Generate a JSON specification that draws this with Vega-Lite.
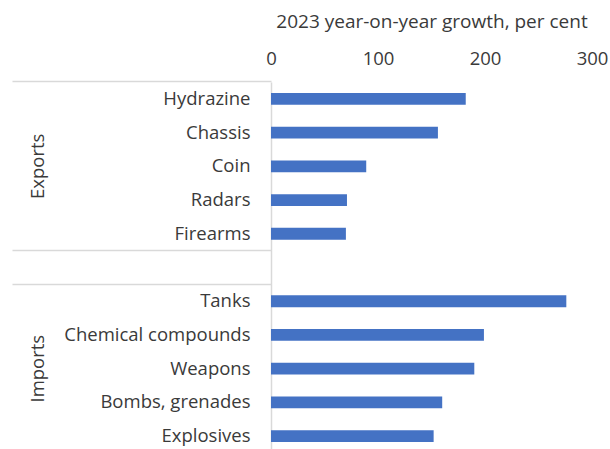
{
  "$schema": "https://vega.github.io/schema/vega-lite/v6.json",
  "width": 321,
  "height": 367,
  "autosize": {"type": "none"},
  "padding": {"left": 271, "top": 82, "right": 18, "bottom": 0},
  "background": "white",
  "view": {"stroke": null},
  "config": {
    "font": "Open Sans",
    "axis": {"labelFont": "Open Sans", "titleFont": "Open Sans", "labelColor": "#3a3a3a", "titleColor": "#3a3a3a", "labelFontSize": 18.5, "titleFontSize": 19, "titleFontWeight": "normal"}
  },
  "data": {
    "values": [
      {"group": "Exports", "item": "Hydrazine", "value": 182},
      {"group": "Exports", "item": "Chassis", "value": 156},
      {"group": "Exports", "item": "Coin", "value": 89},
      {"group": "Exports", "item": "Radars", "value": 71},
      {"group": "Exports", "item": "Firearms", "value": 70},
      {"group": "Imports", "item": "Tanks", "value": 276},
      {"group": "Imports", "item": "Chemical compounds", "value": 199},
      {"group": "Imports", "item": "Weapons", "value": 190},
      {"group": "Imports", "item": "Bombs, grenades", "value": 160},
      {"group": "Imports", "item": "Explosives", "value": 152}
    ]
  },
  "encoding": {
    "x": {
      "field": "value",
      "type": "quantitative",
      "scale": {"domain": [0, 300], "nice": false},
      "axis": {
        "orient": "top",
        "title": "2023 year-on-year growth, per cent",
        "values": [0, 100, 200, 300],
        "grid": false,
        "domain": false,
        "ticks": false,
        "labelPadding": 14,
        "titlePadding": 18,
        "labelFlush": false,
        "labelOverlap": false
      }
    }
  },
  "layer": [
    {
      "mark": {"type": "bar", "color": "#4472C4"},
      "encoding": {
        "y": {
          "field": "item",
          "type": "nominal",
          "sort": null,
          "scale": {
            "domain": ["Hydrazine", "Chassis", "Coin", "Radars", "Firearms", " ", "Tanks", "Chemical compounds", "Weapons", "Bombs, grenades", "Explosives"],
            "range": [0, 371],
            "paddingInner": 0.65,
            "paddingOuter": 0.325
          },
          "axis": {
            "orient": "left",
            "title": null,
            "ticks": false,
            "domain": true,
            "domainColor": "#d9d9d9",
            "domainWidth": 1.5,
            "labelPadding": 21,
            "labelLimit": 300
          }
        }
      }
    },
    {
      "mark": {"type": "bar", "opacity": 0},
      "encoding": {
        "y": {
          "field": "item",
          "type": "nominal",
          "sort": null,
          "axis": {
            "orient": "left",
            "title": null,
            "labels": false,
            "domain": false,
            "ticks": true,
            "tickSize": 259,
            "tickColor": "#d9d9d9",
            "tickWidth": 1.5,
            "bandPosition": -0.9286,
            "values": ["Hydrazine", " ", "Tanks"]
          }
        }
      }
    },
    {
      "mark": {"type": "bar", "opacity": 0},
      "encoding": {
        "y": {
          "field": "item",
          "type": "nominal",
          "sort": null,
          "axis": {
            "orient": "left",
            "title": null,
            "domain": false,
            "ticks": false,
            "values": ["Coin", "Weapons"],
            "labelExpr": "datum.value == 'Coin' ? 'Exports' : 'Imports'",
            "labelAngle": 270,
            "labelAlign": "center",
            "labelBaseline": "middle",
            "labelPadding": 234,
            "labelOverlap": false,
            "labelBound": false
          }
        }
      }
    }
  ],
  "resolve": {"axis": {"y": "independent"}}
}
